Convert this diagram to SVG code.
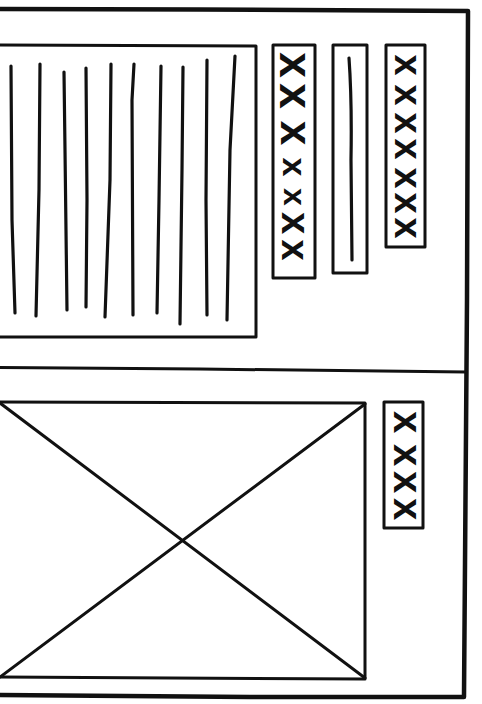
<svg xmlns="http://www.w3.org/2000/svg" width="482" height="704" viewBox="0 0 482 704">
<style>
.ln{fill:none;stroke:#111;stroke-linecap:round;stroke-linejoin:round}
.frame{stroke-width:4.5}
.box{stroke-width:3}
.pen{stroke-width:3.2}
.xs{font-family:"Liberation Sans",Arial,sans-serif;font-weight:bold;fill:#111}
</style>
<rect width="482" height="704" fill="#fff"/>
<g id="frame">
<path class="ln frame" d="M0,9 L200,9.5 L468,11 L467,300 L464,697 L250,697 L0,695"/>
<path class="ln box" d="M0,367.5 L200,369 L466,372"/>
</g>
<g id="text-block">
<path class="ln box" d="M0,45 L256,46 L256,337 L0,337"/>
<path class="ln pen" d="M11,66 L12,220 L15,313"/>
<path class="ln pen" d="M40,64 L39,190 L36,316"/>
<path class="ln pen" d="M64,72 L65,150 L67,310"/>
<path class="ln pen" d="M86,68 L87,200 L86,307"/>
<path class="ln pen" d="M111,64 L110,180 L105,317"/>
<path class="ln pen" d="M134,64 L132,100 L133,315"/>
<path class="ln pen" d="M161,66 L159,200 L157,313"/>
<path class="ln pen" d="M183,67 L182,170 L180,324"/>
<path class="ln pen" d="M207,60 L206,200 L207,315"/>
<path class="ln pen" d="M235,56 L230,150 L227,320"/>
</g>
<g id="label-a">
<path class="ln box" d="M273,45 L315,45 L315,278 L273,278 Z"/>
<text class="xs" transform="translate(292,0) rotate(90)" text-anchor="middle"><tspan x="65" y="12" font-size="46">x</tspan><tspan x="96" y="12" font-size="46">x</tspan><tspan x="133" y="11" font-size="44">x</tspan><tspan x="167" y="9" font-size="34">x</tspan><tspan x="197" y="8" font-size="32">x</tspan><tspan x="223" y="10" font-size="40">x</tspan><tspan x="250" y="10" font-size="38">x</tspan></text>
</g>
<g id="rule-box">
<path class="ln box" d="M333,45 L367,45 L367,273 L333,273 Z"/>
<path class="ln pen" d="M349,58 Q352,100 351,160 L352,260"/>
</g>
<g id="label-b">
<path class="ln box" d="M386,45 L425,45 L425,247 L386,247 Z"/>
<text class="xs" font-size="38" transform="translate(405,0) rotate(90)" text-anchor="middle"><tspan x="65" y="10">x</tspan><tspan x="95" y="10">x</tspan><tspan x="123" y="10">x</tspan><tspan x="149" y="10">x</tspan><tspan x="178" y="10">x</tspan><tspan x="203" y="10">x</tspan><tspan x="228" y="10">x</tspan></text>
</g>
<g id="image-box">
<path class="ln box" d="M0,402 L365,403 L365,679 L0,677"/>
<path class="ln box" d="M0,403 L365,678"/>
<path class="ln box" d="M365,404 L0,677"/>
</g>
<g id="label-c">
<path class="ln box" d="M384,402 L423,402 L423,528 L384,528 Z"/>
<text class="xs" font-size="40" transform="translate(404,0) rotate(90)" text-anchor="middle"><tspan x="422" y="10">x</tspan><tspan x="455" y="10">x</tspan><tspan x="482" y="10">x</tspan><tspan x="509" y="10">x</tspan></text>
</g>
</svg>
